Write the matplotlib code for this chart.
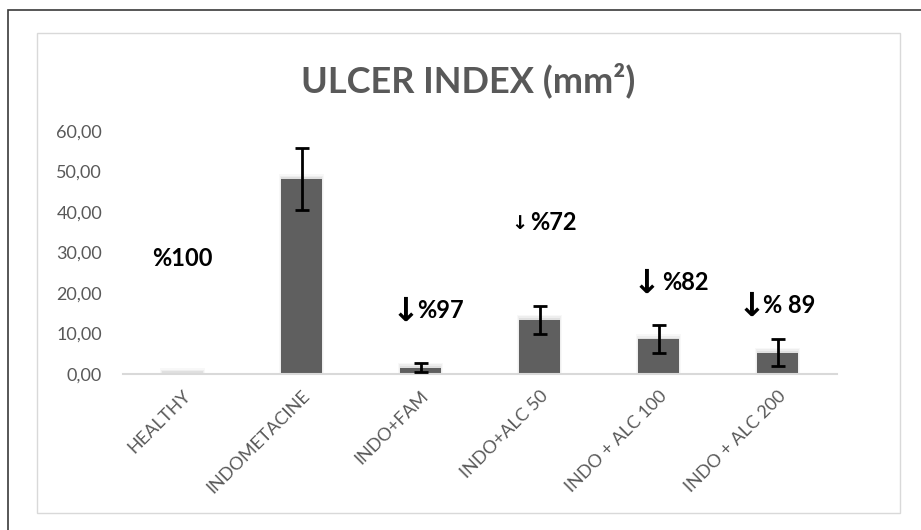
import matplotlib.pyplot as plt
from matplotlib.patches import Rectangle
import numpy as np

# data
groups = ["HEALTHY", "INDOMETACINE", "INDO+FAM", "INDO+ALC 50",
          "INDO + ALC 100", "INDO + ALC 200"]
ulcer_index = [0.3, 48.2, 1.6, 13.4, 8.6, 5.3]
ulcer_err = [0.0, 7.6, 1.1, 3.4, 3.4, 3.3]

notes = ["%100", None, "%97", "%72", "%82", "% 89"]
has_arrow = [False, False, True, True, True, True]
arrow_size = [0, 0, 24, 14, 24, 24]

plt.rcParams['font.family'] = ['Lato', 'DejaVu Sans']
grey = '#595959'

fig = plt.figure(figsize=(9.21, 5.30), dpi=100)
W, H = 921, 530

# outer black frame and inner light chart box
fig.patches.append(Rectangle((8 / W, -0.1), 1.0, 1 - 10 / H + 0.1, transform=fig.transFigure,
                             fill=False, edgecolor='#3a3a3a', linewidth=1.2))
fig.patches.append(Rectangle((37 / W, 1 - 513 / H), (900 - 37) / W, (513 - 33) / H,
                             transform=fig.transFigure, fill=False,
                             edgecolor='#d9d9d9', linewidth=1.0))

ax = fig.add_axes([123 / W, 1 - 374 / H, (837 - 123) / W, (374 - 131) / H])
x = np.arange(len(groups))

# soft glow around bar tops (excel effect)
for k, a in zip([1.2, 0.8, 0.4], [0.05, 0.08, 0.12]):
    ax.bar(x, np.array(ulcer_index) + k, width=0.34 + k * 0.03, color='#808080',
           alpha=a, linewidth=0, zorder=1)
ax.bar(x, ulcer_index, width=0.34, color='#5f5f5f', linewidth=0, zorder=2)
err = np.array(ulcer_err)
mask = err > 0
ax.errorbar(x[mask], np.array(ulcer_index)[mask], yerr=err[mask], fmt='none',
            ecolor='black', elinewidth=2, capsize=5, capthick=2, zorder=3)

ax.set_xlim(-0.5, len(groups) - 0.5)
ax.set_ylim(0, 60)
ax.set_yticks(np.arange(0, 61, 10))
ax.set_yticklabels([f"{v:.2f}".replace('.', ',') for v in np.arange(0, 61, 10)])
ax.set_xticks(x)
ax.set_xticklabels(groups, rotation=45, ha='right', rotation_mode='anchor')
ax.tick_params(axis='y', length=0, pad=15, labelsize=13, labelcolor=grey)
ax.tick_params(axis='x', length=0, pad=10, labelsize=13, labelcolor=grey)
for s in ['top', 'right', 'left']:
    ax.spines[s].set_visible(False)
ax.spines['bottom'].set_color('#d9d9d9')
ax.spines['bottom'].set_linewidth(1.5)

fig.text(468 / W, 1 - 92 / H, "ULCER INDEX (mm²)", ha='center', va='baseline',
         fontsize=26, fontweight='bold', color=grey)

# reduction notes (text left edge / arrow right edge, data units)
text_x = [0.0, 0, 1.97, 2.92, 4.03, 4.88]
arrow_x = [0, 0, 1.99, 2.90, 4.02, 4.90]
note_y = [28.6, 0, 15.8, 37.5, 22.7, 17.0]
for i, t in enumerate(notes):
    if t is None:
        continue
    ax.text(text_x[i], note_y[i], t, ha='left' if has_arrow[i] else 'center',
            va='center', fontsize=17, fontweight='bold', color='black')
    if has_arrow[i]:
        ax.text(arrow_x[i], note_y[i] - 0.3, "↓", ha='right', va='center',
                fontsize=arrow_size[i], fontweight='bold', color='black',
                family='DejaVu Sans')

fig.savefig('out.png', dpi=100)
